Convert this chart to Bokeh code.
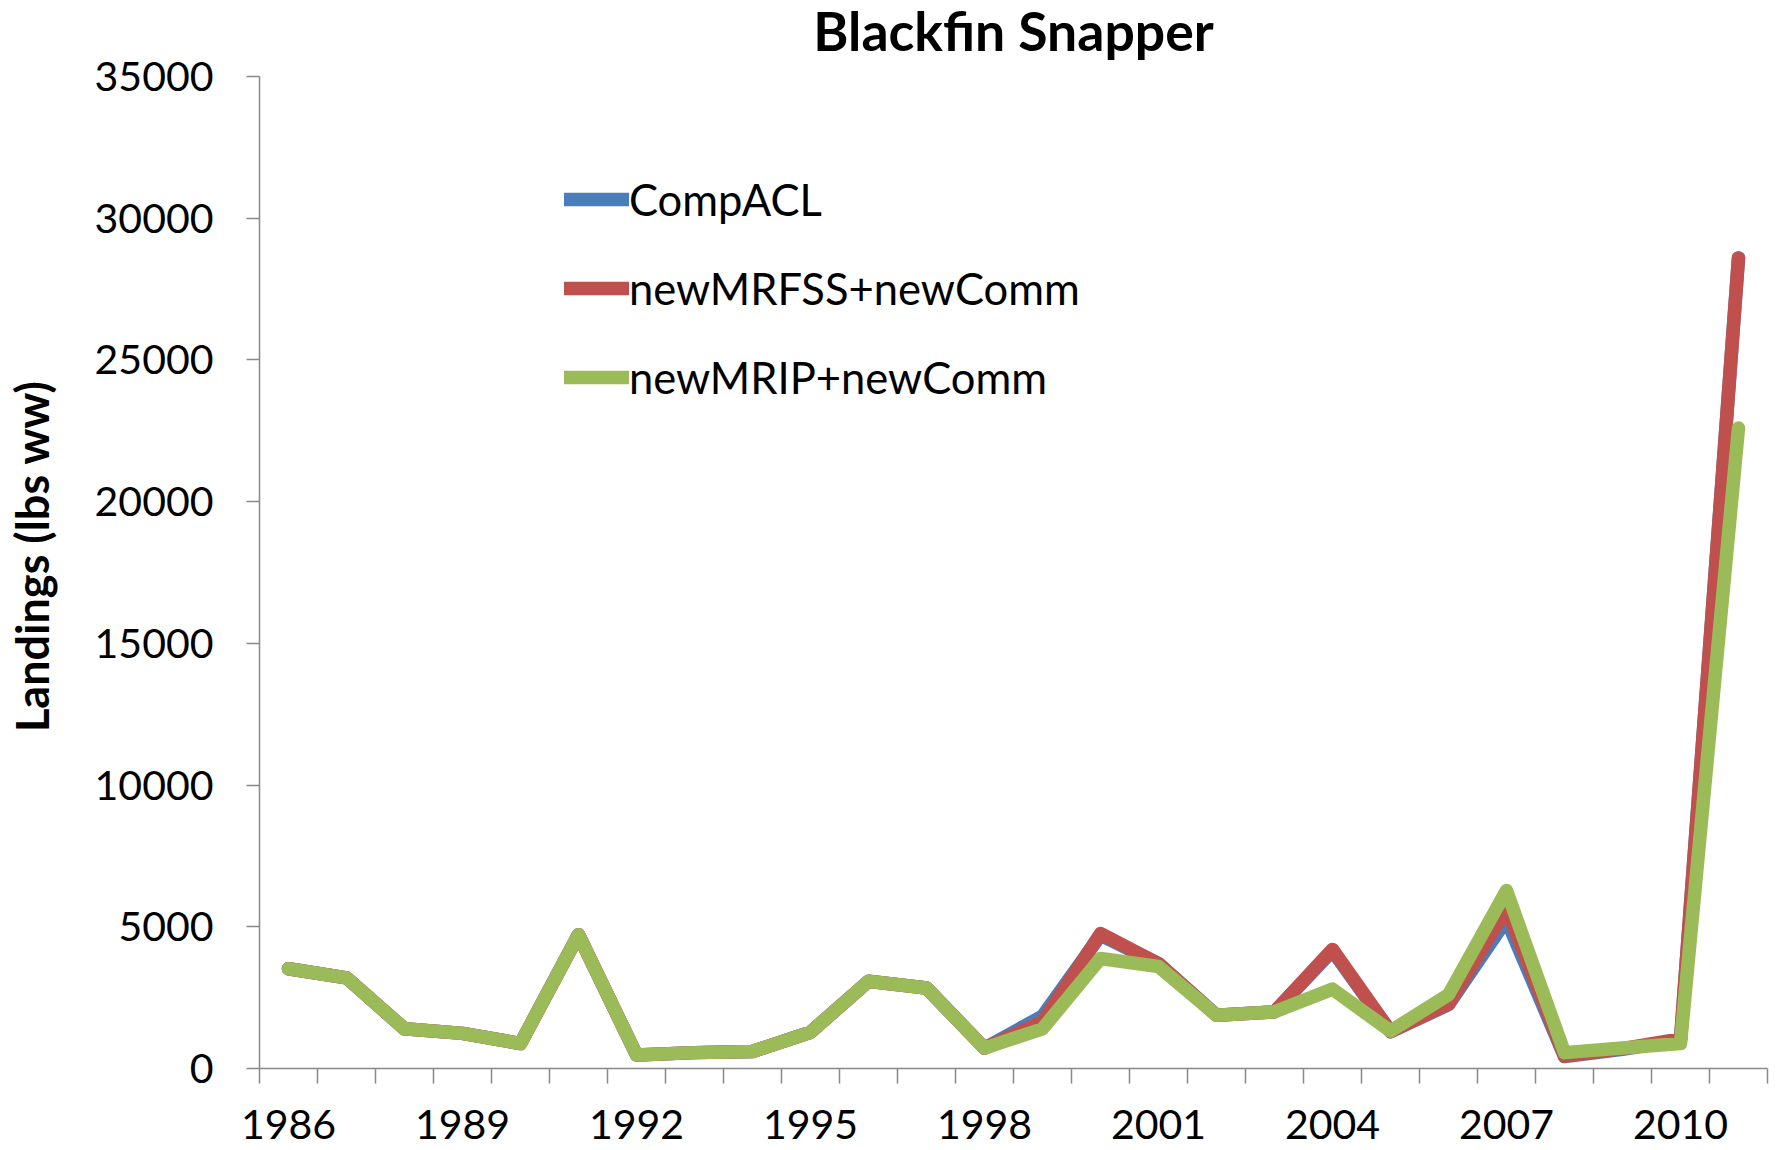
from bokeh.plotting import figure
from bokeh.models import Range1d, FixedTicker, Legend, LegendItem
from bokeh.embed import file_html
from bokeh.resources import INLINE

years = list(range(1986, 2012))
comp_acl = [3520, 3200, 1400, 1240, 880, 4720, 480, 560, 600, 1280, 3080, 2840, 720,
            1850, 4700, 3700, 1880, 2000, 4150, 1300, 2250, 5250, 420, 680, 1000, 28600]
new_mrfss = [3520, 3200, 1400, 1240, 880, 4720, 480, 560, 600, 1280, 3080, 2840, 720,
             1650, 4760, 3700, 1880, 2000, 4200, 1300, 2280, 5640, 440, 700, 1040, 28600]
new_mrip = [3520, 3200, 1400, 1240, 880, 4720, 480, 560, 600, 1280, 3080, 2840, 720,
            1400, 3880, 3600, 1880, 2000, 2800, 1320, 2600, 6280, 560, 720, 880, 22600]
series_names = ["CompACL", "newMRFSS+newComm", "newMRIP+newComm"]
series_colors = ["#4A7EBB", "#C0504D", "#9BBB59"]
year_labels = [1986, 1989, 1992, 1995, 1998, 2001, 2004, 2007, 2010]
y_ticks = [0, 5000, 10000, 15000, 20000, 25000, 30000, 35000]

FONT = "Lato"
AXIS_COLOR = "#898989"

p = figure(width=1775, height=1166, output_backend="svg", toolbar_location=None,
           x_range=Range1d(years[0] - 0.5, years[-1] + 0.5),
           y_range=Range1d(0, 35000),
           min_border_left=259, min_border_right=8, min_border_top=92, min_border_bottom=82,
           styles={"margin-top": "-16px"})

p.background_fill_color = "white"
p.border_fill_color = "white"
p.outline_line_color = None
p.xgrid.grid_line_color = None
p.ygrid.grid_line_color = None

p.title.text = "Blackfin Snapper"
p.title.text_font = FONT
p.title.text_font_style = "bold"
p.title.text_font_size = "53.5px"
p.title.text_color = "black"
p.title.align = "center"
p.title.vertical_align = "top"
p.title.standoff = 26

renderers = []
for name, vals, col in zip(series_names, [comp_acl, new_mrfss, new_mrip], series_colors):
    r = p.line(years, vals, line_color=col, line_width=13.5, line_join="round", line_cap="round")
    renderers.append(r)

# x axis
xa = p.xaxis[0]
xa.ticker = FixedTicker(ticks=year_labels, minor_ticks=[y - 0.5 for y in years] + [years[-1] + 0.5])
xa.axis_line_color = AXIS_COLOR
xa.axis_line_width = 1.5
xa.major_tick_line_color = None
xa.major_tick_out = 15
xa.major_tick_in = 0
xa.minor_tick_line_color = AXIS_COLOR
xa.minor_tick_line_width = 1.5
xa.minor_tick_out = 15
xa.minor_tick_in = 0
xa.major_label_text_font = FONT
xa.major_label_text_font_size = "41px"
xa.major_label_text_color = "black"
xa.major_label_standoff = 26

# y axis
ya = p.yaxis[0]
ya.ticker = FixedTicker(ticks=y_ticks, minor_ticks=[])
ya.axis_line_color = AXIS_COLOR
ya.axis_line_width = 1.5
ya.major_tick_line_color = AXIS_COLOR
ya.major_tick_line_width = 1.5
ya.major_tick_out = 13
ya.major_tick_in = 0
ya.minor_tick_line_color = None
ya.major_label_text_font = FONT
ya.major_label_text_font_size = "41px"
ya.major_label_text_color = "black"
ya.major_label_standoff = 33
ya.axis_label = "\u00a0\u00a0\u00a0Landings (lbs ww)"
ya.axis_label_text_font = FONT
ya.axis_label_text_font_style = "bold"
ya.axis_label_text_font_size = "45px"
ya.axis_label_text_color = "black"
ya.axis_label_standoff = 33

legend = Legend(items=[LegendItem(label=n, renderers=[r]) for n, r in zip(series_names, renderers)],
                location=(305, 665))
legend.border_line_color = None
legend.background_fill_alpha = 0
legend.padding = 0
legend.margin = 0
legend.spacing = 37
legend.glyph_height = 50
legend.label_height = 50
legend.glyph_width = 65
legend.label_standoff = 0
legend.label_text_font = FONT
legend.label_text_font_size = "43.5px"
legend.label_text_color = "black"
legend.label_text_baseline = "middle"
p.add_layout(legend)

open("out.html", "w").write(file_html(p, INLINE))
